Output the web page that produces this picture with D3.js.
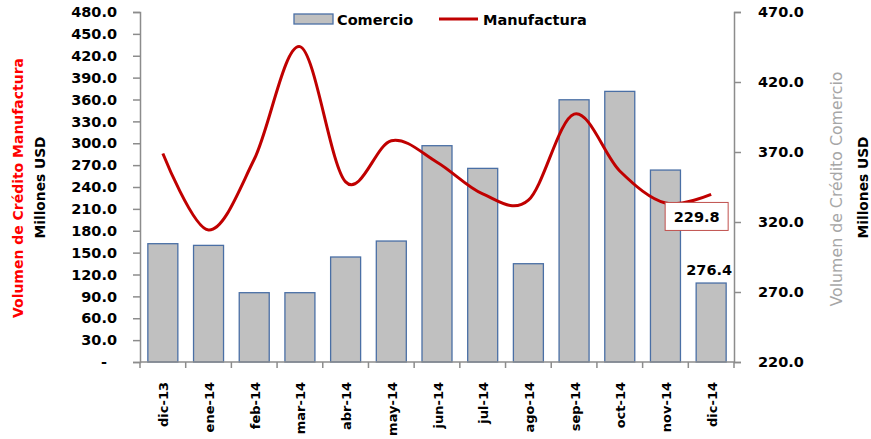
<!DOCTYPE html>
<html>
<head>
<meta charset="utf-8">
<script src="https://cdn.jsdelivr.net/npm/d3@7"></script>
<style>
  html, body { margin: 0; padding: 0; background: #fff; }
  svg { display: block; font-family: "DejaVu Sans", Verdana, sans-serif; }
</style>
</head>
<body>
<svg id="chart" width="871" height="439"></svg>
<script>
const categories = ["dic-13","ene-14","feb-14","mar-14","abr-14","may-14","jun-14","jul-14","ago-14","sep-14","oct-14","nov-14","dic-14"];
const comercio = [304.5, 303.3, 269.5, 269.5, 295.0, 306.4, 374.5, 358.3, 290.2, 407.3, 413.3, 357.1, 276.4];
const manufactura = [286.0, 181.0, 278.0, 432.5, 247.0, 303.5, 274.0, 230.5, 222.0, 340.0, 262.0, 218.0, 229.8];
const leftTicks = [0,30,60,90,120,150,180,210,240,270,300,330,360,390,420,450,480];
const rightTicks = [220,270,320,370,420,470];
const seriesNames = ["Comercio", "Manufactura"];
const leftTitle = "Volumen de Crédito Manufactura";
const rightTitle = "Volumen de Crédito Comercio";
const unitTitle = "Millones USD";

const svg = d3.select("#chart");
const X0 = 140, X1 = 734, YT = 12, YB = 362;
const axisColor = "#8c8c8c";

const x = d3.scaleBand().domain(categories).range([X0, X1]).paddingInner(0.34).paddingOuter(0.17);
const xb = d3.scaleBand().domain(categories).range([X0, X1]);
const yL = d3.scaleLinear().domain([0, 480]).range([YB, YT]);
const yR = d3.scaleLinear().domain([220, 470]).range([YB, YT]);

// Bars (Comercio, right axis)
svg.append("g").selectAll("rect").data(comercio).join("rect")
  .attr("x", (d, i) => xb(categories[i]) + xb.bandwidth() / 2 - 15)
  .attr("width", 30)
  .attr("y", d => yR(d))
  .attr("height", d => YB - yR(d))
  .attr("fill", "#c0c0c0")
  .attr("stroke", "#4a6fa5")
  .attr("stroke-width", 1.3);

// Left axis
const fmt = d => d === 0 ? "-" : d3.format(".1f")(d);
const gL = svg.append("g").attr("transform", `translate(${X0},0)`)
  .call(d3.axisLeft(yL).tickValues(leftTicks).tickSize(7).tickPadding(16).tickFormat(fmt));
gL.select(".domain").attr("stroke", axisColor).attr("stroke-width", 1.5);
gL.selectAll(".tick line").attr("stroke", axisColor).attr("stroke-width", 1.5);
gL.selectAll(".tick text").attr("font-family", "DejaVu Sans").attr("font-weight", "bold")
  .attr("font-size", "14.5px").attr("fill", "#000");
gL.selectAll(".tick text").filter(d => d === 0).attr("dx", "-10");

// Right axis
const gR = svg.append("g").attr("transform", `translate(${X1},0)`)
  .call(d3.axisRight(yR).tickValues(rightTicks).tickSize(7).tickPadding(17).tickFormat(d3.format(".1f")));
gR.select(".domain").attr("stroke", axisColor).attr("stroke-width", 1.5);
gR.selectAll(".tick line").attr("stroke", axisColor).attr("stroke-width", 1.5);
gR.selectAll(".tick text").attr("font-family", "DejaVu Sans").attr("font-weight", "bold")
  .attr("font-size", "14.5px").attr("fill", "#000");

// Bottom axis: tick marks at band boundaries
const gB = svg.append("g");
gB.append("line").attr("x1", X0).attr("x2", X1).attr("y1", YB).attr("y2", YB)
  .attr("stroke", axisColor).attr("stroke-width", 1.5);
const bounds = categories.map(c => xb(c)).concat([X1]);
gB.selectAll("line.t").data(bounds).join("line").attr("class", "t")
  .attr("x1", d => d).attr("x2", d => d).attr("y1", YB).attr("y2", YB + 6)
  .attr("stroke", axisColor).attr("stroke-width", 1.5);
gB.selectAll("text").data(categories).join("text")
  .attr("transform", d => `translate(${xb(d) + xb.bandwidth() / 2 + 1},${YB + 20}) rotate(-90)`)
  .attr("text-anchor", "end")
  .attr("dominant-baseline", "central")
  .attr("font-weight", "bold").attr("font-size", "13px").attr("fill", "#000")
  .text(d => d);

// Line (Manufactura, left axis)
const line = d3.line()
  .x((d, i) => xb(categories[i]) + xb.bandwidth() / 2)
  .y(d => yL(d))
  .curve(d3.curveCardinal.tension(0));
svg.append("path").datum(manufactura).attr("d", line)
  .attr("fill", "none").attr("stroke", "#c00000").attr("stroke-width", 3)
  .attr("stroke-linejoin", "round");

// Data labels
const last = categories.length - 1;
const cxLast = xb(categories[last]) + xb.bandwidth() / 2;
svg.append("text")
  .attr("x", cxLast - 2).attr("y", yR(comercio[last]) - 8)
  .attr("text-anchor", "middle").attr("font-weight", "bold").attr("font-size", "14.5px")
  .text(d3.format(".1f")(comercio[last]));

const ly = yL(manufactura[last]);
svg.append("rect").attr("x", cxLast - 46).attr("y", ly + 8).attr("width", 63).attr("height", 28)
  .attr("fill", "#fff").attr("stroke", "#c0504d").attr("stroke-width", 1);
svg.append("text")
  .attr("x", cxLast - 14.5).attr("y", ly + 28)
  .attr("text-anchor", "middle").attr("font-weight", "bold").attr("font-size", "14.5px")
  .text(d3.format(".1f")(manufactura[last]));

// Legend
const lg = svg.append("g");
lg.append("rect").attr("x", 294).attr("y", 14).attr("width", 39).attr("height", 10)
  .attr("fill", "#c0c0c0").attr("stroke", "#4a6fa5").attr("stroke-width", 1.3);
lg.append("text").attr("x", 337).attr("y", 25).attr("font-weight", "bold").attr("font-size", "14.5px")
  .text(seriesNames[0]);
lg.append("line").attr("x1", 439).attr("x2", 478).attr("y1", 19).attr("y2", 19)
  .attr("stroke", "#c00000").attr("stroke-width", 3);
lg.append("text").attr("x", 483).attr("y", 25).attr("font-weight", "bold").attr("font-size", "14.5px")
  .text(seriesNames[1]);

// Axis titles
function vtitle(cx, cy, txt, color, weight, size, len) {
  svg.append("text")
    .attr("transform", `translate(${cx},${cy}) rotate(-90)`)
    .attr("text-anchor", "middle").attr("dominant-baseline", "central")
    .attr("font-weight", weight).attr("font-size", size).attr("fill", color)
    .attr("textLength", len).attr("lengthAdjust", "spacingAndGlyphs")
    .text(txt);
}
vtitle(17.5, 188, leftTitle, "#ff0000", "bold", "14px", 260);
vtitle(40, 187.5, unitTitle, "#000", "bold", "14px", 102);
vtitle(837, 189, rightTitle, "#a6a6a6", "normal", "15px", 235);
vtitle(863, 187.5, unitTitle, "#000", "bold", "14px", 102);
</script>
</body>
</html>
